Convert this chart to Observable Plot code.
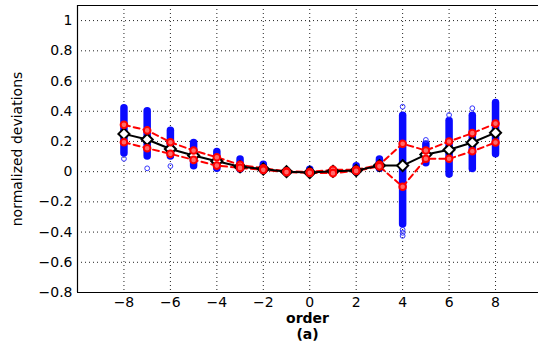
<!DOCTYPE html>
<html>
<head>
<meta charset="utf-8">
<script src="https://cdn.jsdelivr.net/npm/d3@7"></script>
<script src="https://cdn.jsdelivr.net/npm/@observablehq/plot@0.6"></script>
<style>
  body { margin: 0; background: #fff; font-family: "DejaVu Sans", sans-serif; }
  #chart { width: 538px; height: 343px; position: relative; }
  #chart svg { display: block; }
  .cap { position: absolute; left: 77px; width: 461px; text-align: center; font-weight: bold; font-size: 14px; color: #000; line-height: 16px; height: 16px; }
</style>
</head>
<body>
<div id="chart"></div>
<script>
const orders     = [-8, -7, -6, -5, -4, -3, -2, -1, 0, 1, 2, 3, 4, 5, 6, 7, 8];
const meanVals   = [0.25, 0.213, 0.15, 0.107, 0.069, 0.033, 0.018, 0.0, -0.005, 0.002, 0.008, 0.04, 0.04, 0.113, 0.145, 0.193, 0.258];
const upperVals  = [0.31, 0.273, 0.195, 0.14, 0.095, 0.045, 0.022, 0.003, -0.002, 0.012, 0.012, 0.045, 0.185, 0.14, 0.2, 0.255, 0.318];
const lowerVals  = [0.195, 0.155, 0.118, 0.078, 0.04, 0.025, 0.012, -0.003, -0.008, -0.01, 0.005, 0.035, -0.1, 0.085, 0.085, 0.135, 0.193];
const blueTop    = [0.42, 0.40, 0.27, 0.19, 0.13, 0.08, 0.045, 0.005, 0.012, 0.005, 0.035, 0.08, 0.37, 0.18, 0.335, 0.37, 0.455];
const blueBottom = [0.12, 0.10, 0.10, 0.035, 0.02, 0.015, 0.005, -0.005, -0.008, -0.002, -0.005, 0.02, -0.35, 0.055, -0.018, 0.018, 0.115];
const outlierOrder = [-8, -7, -6, 4, 4, 4, 4, 5, 6, 7];
const outlierVals  = [0.085, 0.022, 0.037, 0.43, -0.385, -0.405, -0.425, 0.21, 0.375, 0.42];
const xTicks = [-8, -6, -4, -2, 0, 2, 4, 6, 8];
const yTicks = [-0.8, -0.6, -0.4, -0.2, 0, 0.2, 0.4, 0.6, 0.8, 1];
const xDomain = [-10, 9.85];
const yDomain = [-0.8, 1.1];
const xLabel = "order";
const subLabel = "(a)";

const rows = orders.map((o, i) => ({
  order: o, mean: meanVals[i], upper: upperVals[i], lower: lowerVals[i],
  hi: blueTop[i], lo: blueBottom[i]
}));
const outliers = outlierOrder.map((o, i) => ({order: o, v: outlierVals[i]}));

const grid = {stroke: "#222", strokeWidth: 1, strokeDasharray: "1,3"};

const plot = Plot.plot({
  width: 538,
  height: 343,
  marginLeft: 77,
  marginRight: 0,
  marginTop: 5,
  marginBottom: 51,
  style: {fontFamily: "DejaVu Sans, sans-serif", fontSize: "14px", color: "#000", background: "#fff"},
  x: {domain: xDomain, ticks: xTicks, tickFormat: d3.format("~g"), tickSize: 0, tickPadding: 5, label: null},
  y: {domain: yDomain, ticks: yTicks, tickFormat: d3.format("~g"), tickSize: 0, tickPadding: 5,
      label: "normalized deviations", labelAnchor: "center", labelArrow: "none", labelOffset: 65},
  marks: [
    Plot.ruleY(yTicks, {...grid}),
    Plot.ruleX(xTicks, {...grid}),
    Plot.ruleX([xDomain[0]], {stroke: "#000", strokeWidth: 1.2}),
    Plot.ruleY([yDomain[0]], {stroke: "#000", strokeWidth: 1.2}),
    Plot.ruleY([yDomain[1]], {stroke: "#000", strokeWidth: 1}),
    Plot.ruleX(rows, {x: "order", y1: "lo", y2: "hi", stroke: "#0a0aff", strokeWidth: 7.5, strokeLinecap: "round"}),
    Plot.dot(outliers, {x: "order", y: "v", r: 2.4, stroke: "#3535ff", strokeWidth: 1, fill: "none"}),
    Plot.line(rows, {x: "order", y: "upper", stroke: "#ff0000", strokeWidth: 2, strokeDasharray: "6,4"}),
    Plot.line(rows, {x: "order", y: "lower", stroke: "#ff0000", strokeWidth: 2, strokeDasharray: "6,4"}),
    Plot.line(rows, {x: "order", y: "mean", stroke: "#000", strokeWidth: 2}),
    Plot.dot(rows, {x: "order", y: "mean", symbol: "diamond2", r: 5, fill: "#fff", stroke: "#000", strokeWidth: 2}),
    Plot.dot(rows, {x: "order", y: "upper", r: 3.3, fill: "#ff6a6a", stroke: "#ff0000", strokeWidth: 2}),
    Plot.dot(rows, {x: "order", y: "lower", r: 3.3, fill: "#ff6a6a", stroke: "#ff0000", strokeWidth: 2})
  ]
});
const chart = document.getElementById("chart");
chart.append(plot);
const c1 = document.createElement("div");
c1.className = "cap"; c1.style.top = "310px"; c1.textContent = xLabel;
const c2 = document.createElement("div");
c2.className = "cap"; c2.style.top = "326px"; c2.textContent = subLabel;
chart.append(c1, c2);
</script>
</body>
</html>
